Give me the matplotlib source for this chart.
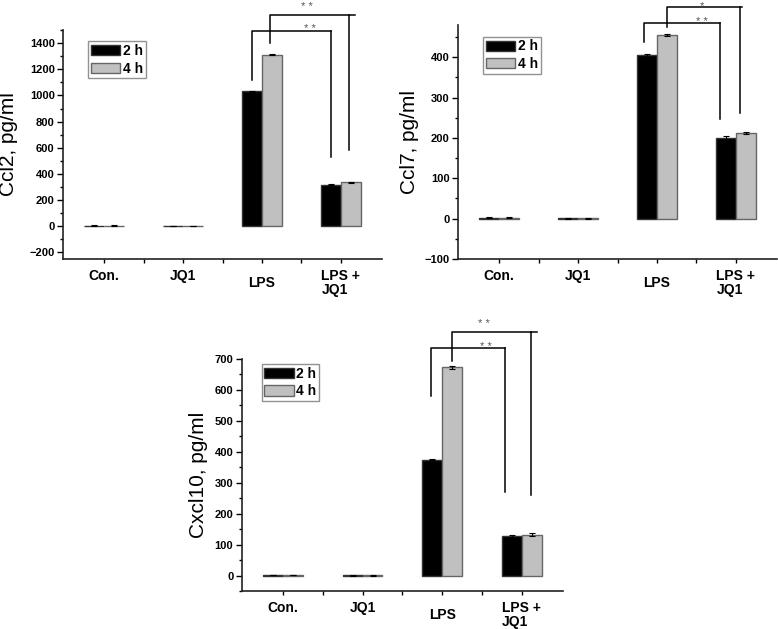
import matplotlib
matplotlib.use("Agg")
import matplotlib.pyplot as plt
from matplotlib.ticker import MultipleLocator
import numpy as np

plt.rcParams['font.family'] = ['Liberation Sans', 'DejaVu Sans']

groups = ["Con.", "JQ1", "LPS", "LPS +\nJQ1"]
series = ["2 h", "4 h"]

ccl2_2h = [5, 3, 1031, 316]
ccl2_4h = [5, 3, 1312, 337]
ccl2_err_2h = [2, 2, 5, 4]
ccl2_err_4h = [2, 2, 5, 4]

ccl7_2h = [2.5, 1, 405, 200]
ccl7_4h = [2.5, 1, 455, 212]
ccl7_err_2h = [1, 1, 4, 4]
ccl7_err_4h = [1, 1, 3, 2]

cxcl10_2h = [2, 1, 375, 129]
cxcl10_4h = [2, 1, 673, 132]
cxcl10_err_2h = [1, 1, 3, 3]
cxcl10_err_4h = [1, 1, 4, 5]

# brackets: (x_start, y_start, y_top, x_end, y_end, x_hend, star_x, star_y, label)
ccl2_brackets = [
    (2.875, 1120, 1490, 3.875, 530, 3.875, 3.61, 1485, "* *"),
    (3.10, 1404, 1611, 4.10, 584, 4.18, 3.57, 1654, "* *"),
]
ccl7_brackets = [
    (2.84, 437, 484, 3.80, 248, 3.80, 3.57, 481, "* *"),
    (3.13, 476, 525, 4.05, 263, 4.076, 3.57, 520, "*"),
]
cxcl10_brackets = [
    (2.855, 580, 735, 3.793, 269, 3.793, 3.55, 728, "* *"),
    (3.125, 695, 787, 4.117, 259, 4.19, 3.53, 804, "* *"),
]

fig = plt.figure(figsize=(7.78, 6.29), dpi=100)

def panel(rect, v2, v4, e2, e4, ylim, major, minor, ylabel, brackets, leg_anchor, ylabel_x):
    ax = fig.add_axes(rect)
    x = np.arange(1, len(groups) + 1)
    w = 0.25
    ax.bar(x - w / 2, v2, w, color='black', edgecolor='#333333', linewidth=1.0,
           yerr=e2, error_kw=dict(ecolor='black', elinewidth=0.8, capsize=2, capthick=0.8),
           label=series[0], zorder=2)
    ax.bar(x + w / 2, v4, w, color='#c0c0c0', edgecolor='#666666', linewidth=1.0,
           yerr=e4, error_kw=dict(ecolor='black', elinewidth=0.8, capsize=2, capthick=0.8),
           label=series[1], zorder=2)
    ax.set_xlim(0.48, 4.52)
    ax.set_ylim(*ylim)
    ax.yaxis.set_major_locator(MultipleLocator(major))
    ax.yaxis.set_minor_locator(MultipleLocator(minor))
    ax.set_xticks(x)
    ax.set_xticks([1.5, 2.5, 3.5], minor=True)
    ax.set_xticklabels(groups, fontsize=10, fontweight='bold', multialignment='left',
                       linespacing=1.0)
    for lab in ax.get_xticklabels():
        if lab.get_text() == "LPS":
            lab.set_y(-0.03)
    for lab in ax.get_yticklabels():
        lab.set_fontweight('bold')
    ax.tick_params(axis='y', which='major', direction='out', length=4, width=1, labelsize=8, pad=2)
    ax.tick_params(axis='y', which='minor', direction='out', length=2, width=1)
    ax.tick_params(axis='x', which='major', direction='out', length=3, width=1, pad=4.5)
    ax.tick_params(axis='x', which='minor', direction='out', length=3, width=1)
    for s in ['top', 'right']:
        ax.spines[s].set_visible(False)
    for s in ['left', 'bottom']:
        ax.spines[s].set_linewidth(1.2)
        ax.spines[s].set_color('#222222')
    ax.set_ylabel(ylabel, fontsize=15)
    ax.yaxis.set_label_coords(ylabel_x, 0.5)
    leg = ax.legend(loc='upper left', bbox_to_anchor=leg_anchor, frameon=True, fancybox=False,
                    prop=dict(size=10, weight='bold'), handlelength=2.1, handleheight=0.75,
                    handletextpad=0.2, labelspacing=0.25, borderpad=0.2, borderaxespad=0.0)
    leg.get_frame().set_edgecolor('#777777')
    leg.get_frame().set_linewidth(1.0)
    for (xs, ys, yt, xe, ye, xh, sx, sy, lab) in brackets:
        ax.plot([xs, xs, xh], [ys, yt, yt], color='black', lw=1.1, clip_on=False, zorder=3)
        ax.plot([xe, xe], [yt, ye], color='black', lw=1.1, clip_on=False, zorder=3)
        ax.text(sx, sy, lab, ha='center', va='baseline', fontsize=8, color='#555555', clip_on=False)
    return ax

panel([63 / 778, 1 - 259 / 629, 319 / 778, 229 / 629], ccl2_2h, ccl2_4h, ccl2_err_2h, ccl2_err_4h,
      (-250, 1500), 200, 100, "Ccl2, pg/ml", ccl2_brackets, (0.078, 0.95), (18 - 63) / 319)
panel([458 / 778, 1 - 259 / 629, 319 / 778, 234 / 629], ccl7_2h, ccl7_4h, ccl7_err_2h, ccl7_err_4h,
      (-100, 480), 100, 50, "Ccl7, pg/ml", ccl7_brackets, (0.078, 0.95), (419 - 458) / 319)
panel([241.7 / 778, 1 - 591 / 629, 321.3 / 778, 232 / 629], cxcl10_2h, cxcl10_4h, cxcl10_err_2h, cxcl10_err_4h,
      (-50, 700), 100, 50, "Cxcl10, pg/ml", cxcl10_brackets, (0.062, 0.978), (208 - 241.7) / 321.3)

fig.savefig("out.png", dpi=100, facecolor='white')
